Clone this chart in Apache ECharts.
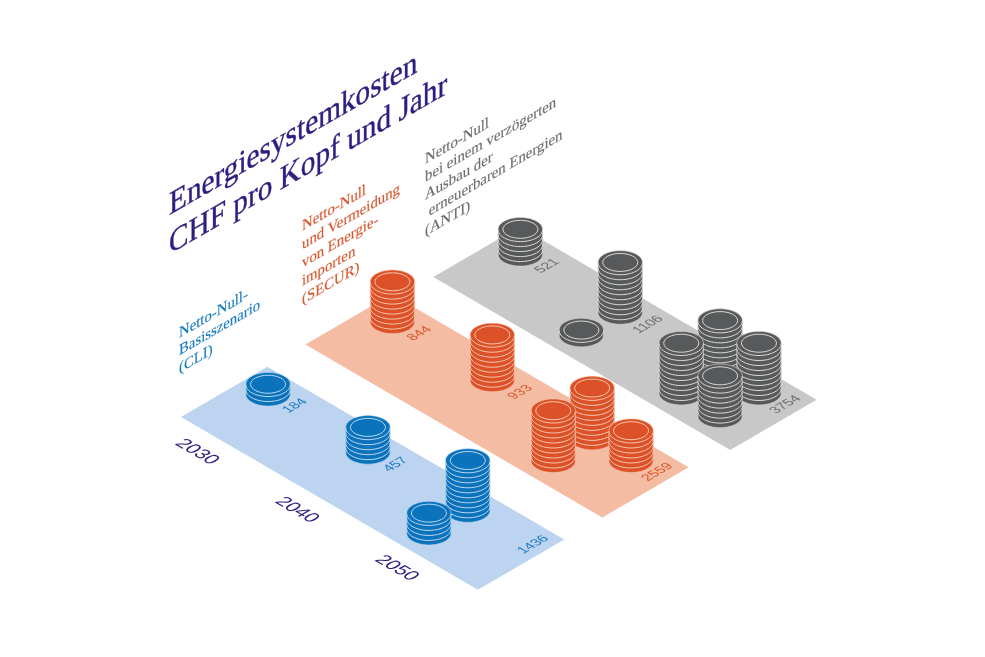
<!DOCTYPE html>
<html>
<head>
<meta charset="utf-8">
<style>
html, body { margin: 0; background: #fff; }
#chart { width: 985px; height: 657px; }
</style>
<script src="https://cdn.jsdelivr.net/npm/echarts@6/dist/echarts.min.js"></script>
</head>
<body>
<div id="chart"></div>
<script>
// data
const years = [2030, 2040, 2050];
const cliTotals = [184, 457, 1436];
const securTotals = [844, 933, 2559];
const antiTotals = [521, 1106, 3754];
// coins per stack, per year (one coin is about 100 CHF)
const cliCoins = [[2], [5], [10, 4]];
const securCoins = [[8], [9], [10, 10, 6]];
const antiCoins = [[5], [10, 1], [10, 10, 10, 8]];
const titleLines = ['Energiesystemkosten', 'CHF pro Kopf und Jahr'];
const cliLines = ['Netto-Null-', 'Basisszenario', '(CLI)'];
const securLines = ['Netto-Null', 'und Vermeidung', 'von Energie-', 'importen', '(SECUR)'];
const antiLines = ['Netto-Null', 'bei einem verzögerten', 'Ausbau der', ' erneuerbaren Energien', '(ANTI)'];

// look of the three rows, front to back
const coinColors = ['#0a73bb', '#dc5128', '#58595b'];
const lineColors = ['#bcd8f2', '#f7c8b0', '#d9d9d9'];
const plateColors = ['#bdd4f0', '#f4bda3', '#c8c8c8'];
const textColors = ['#1a7cc0', '#d9572f', '#6d6e70'];
const navy = '#2a1f80';
const serif = '"Liberation Serif", serif';
const sans = '"Liberation Sans", sans-serif';

// row axis position, and a small slide along the year axis (back row sits off the grid)
const rowPos = [0, 1, 1.98];
const rowYearShift = [0, 0, 0.6];
const plateStart = 2027.6;
const plateEnd = 2057.33;
const plateDepth = 0.694;
const stackRow = 0.507;
const slotYear = 3.89;
const slotRow = 0.3125;
// back, left, right, front of the little pile of stacks
const slots = [[0, 0], [0, -1], [1, 0], [1, -1]];
const coinRx = 22.2, coinRy = 11.8, coinH = 5;

// flat grid position -> isometric page position
const ISO_X = 0.864, ISO_Y = 0.503;
function project(api, year, row) {
    const p = api.coord([year, row]);
    const a = p[0], b = p[1] - 72;
    return [181 + (a + b) * ISO_X, 417 + (a - b) * ISO_Y];
}

// text under a free 2x2 matrix: split into rotate/scale/rotate because elements only have those
function skewText(m, x, y, style) {
    const E = (m[0] + m[3]) / 2, F = (m[0] - m[3]) / 2;
    const G = (m[1] + m[2]) / 2, H = (m[1] - m[2]) / 2;
    const Q = Math.hypot(E, H), R = Math.hypot(F, G);
    const a1 = Math.atan2(G, F), a2 = Math.atan2(H, E);
    return {
        type: 'group',
        x: x,
        y: y,
        rotation: -(a2 + a1) / 2,
        scaleX: Q + R,
        scaleY: Q - R,
        children: [{
            type: 'text',
            rotation: -(a2 - a1) / 2,
            style: style
        }]
    };
}
const FLOOR_UP = [0.866, -0.5, 0.866, 0.5];   // lying on the floor, climbing
const FLOOR_DOWN = [0.866, 0.5, -0.866, 0.5]; // lying on the floor, falling

// upright text climbing to the right, k stretches it along the baseline
function wallLines(lines, x, y, step, size, k, weight, color) {
    return lines.map(function (t, i) {
        return skewText([0.866 * k, -0.5 * k, 0, 1], x, y + i * step, {
            text: t, fill: color, font: size + 'px ' + serif,
            stroke: color, lineWidth: weight,
            textAlign: 'left', textVerticalAlign: 'bottom'
        });
    });
}

// rows of the custom series
const allCoins = [cliCoins, securCoins, antiCoins];
const allTotals = [cliTotals, securTotals, antiTotals];
const plateData = [2, 1, 0].map(function (r) { return [plateStart, rowPos[r], r]; });
const stackData = [];
[2, 1, 0].forEach(function (r) {
    years.forEach(function (y, yi) {
        allCoins[r][yi].forEach(function (n, s) {
            stackData.push([y, rowPos[r], n, s, r]);
        });
    });
});
const labelShift = [2.35, 2.45, 6.2];
const labelData = [], labelText = [];
allTotals.forEach(function (totals, r) {
    totals.forEach(function (v, yi) {
        labelData.push([years[yi] + labelShift[yi], rowPos[r], r]);
        labelText.push(String(v));
    });
});

function renderPlate(params, api) {
    const r = api.value(2);
    const row = api.value(1);
    const sh = rowYearShift[r];
    const pts = [
        project(api, plateStart + sh, row),
        project(api, plateStart + sh, row + plateDepth),
        project(api, plateEnd + sh, row + plateDepth),
        project(api, plateEnd + sh, row)
    ];
    return { type: 'polygon', shape: { points: pts }, style: { fill: plateColors[r] } };
}

function renderStack(params, api) {
    const n = api.value(2), slot = slots[api.value(3)], r = api.value(4);
    const c = project(api, api.value(0) + slot[0] * slotYear + rowYearShift[r], api.value(1) + stackRow + slot[1] * slotRow);
    const top = c[1] - n * coinH;
    const edge = [];
    let i;
    for (i = 0; i <= 36; i++) {
        const t = Math.PI * i / 36;
        edge.push([c[0] + coinRx * Math.cos(t), c[1] + coinRy * Math.sin(t)]);
    }
    for (i = 0; i <= 36; i++) {
        const t = Math.PI + Math.PI * i / 36;
        edge.push([c[0] + coinRx * Math.cos(t), top + coinRy * Math.sin(t)]);
    }
    const children = [{
        type: 'polygon',
        shape: { points: edge },
        style: { fill: coinColors[r], stroke: lineColors[r], lineWidth: 0.6 }
    }];
    // one light arc per coin edge
    for (let k = 0; k < n; k++) {
        const y0 = top + k * coinH;
        const arc = [];
        for (i = 0; i <= 24; i++) {
            const t = Math.PI * i / 24;
            arc.push([c[0] + coinRx * Math.cos(t), y0 + coinRy * Math.sin(t) + 0.5]);
        }
        children.push({
            type: 'polyline',
            shape: { points: arc },
            style: { fill: null, stroke: lineColors[r], lineWidth: 1 }
        });
    }
    children.push({
        type: 'ellipse',
        shape: { cx: c[0], cy: top, rx: coinRx - 4.7, ry: coinRy - 2.8 },
        style: { fill: null, stroke: lineColors[r], lineWidth: 1 }
    });
    return { type: 'group', children: children };
}

function renderLabel(params, api) {
    const r = api.value(2);
    const p = project(api, api.value(0) + rowYearShift[r], api.value(1) + 0.535);
    return skewText(FLOOR_UP, p[0], p[1], {
        text: labelText[params.dataIndex], fill: textColors[r], font: '13.5px ' + sans,
        textAlign: 'center', textVerticalAlign: 'middle'
    });
}

function renderYear(params, api) {
    const p = project(api, api.value(0) + 1.4, -0.177);
    return skewText(FLOOR_DOWN, p[0], p[1], {
        text: String(api.value(0)), fill: navy, font: '19px ' + sans,
        textAlign: 'center', textVerticalAlign: 'middle'
    });
}

const myChart = echarts.init(document.getElementById('chart'));
myChart.setOption({
    animation: false,
    backgroundColor: '#fff',
    tooltip: { show: false },
    grid: { left: 0, top: 0, width: 374.5, height: 504 },
    xAxis: { type: 'value', min: 2027.6, max: 2060, show: false },
    yAxis: { type: 'value', min: -0.5, max: 3, inverse: true, show: false },
    graphic: {
        elements: [].concat(
            wallLines(titleLines, 169, 223, 39, 33, 1.025, 0.4, navy),
            wallLines(cliLines, 179, 342, 17.5, 15.5, 1.1, 0.15, textColors[0]),
            wallLines(securLines, 302, 235, 18.3, 15.5, 1.1, 0.15, textColors[1]),
            wallLines(antiLines, 425, 168, 18, 15.5, 1.1, 0.15, textColors[2])
        )
    },
    series: [
        { type: 'custom', name: 'plates', renderItem: renderPlate, data: plateData, silent: true },
        { type: 'custom', name: 'stacks', renderItem: renderStack, data: stackData, silent: true },
        { type: 'custom', name: 'totals', renderItem: renderLabel, data: labelData, silent: true },
        { type: 'custom', name: 'years', renderItem: renderYear, data: years.map(function (y) { return [y]; }), silent: true }
    ]
});
</script>
</body>
</html>
